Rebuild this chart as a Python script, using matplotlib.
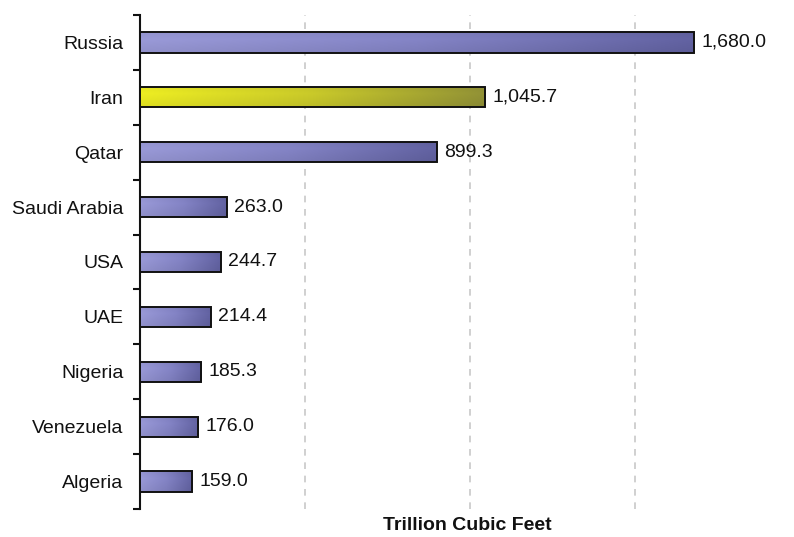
import numpy as np
import matplotlib
matplotlib.use("Agg")
import matplotlib.pyplot as plt
from matplotlib.colors import LinearSegmentedColormap
from matplotlib.transforms import offset_copy

countries = ["Russia", "Iran", "Qatar", "Saudi Arabia", "USA", "UAE", "Nigeria", "Venezuela", "Algeria"]
values = [1680.0, 1045.7, 899.3, 263.0, 244.7, 214.4, 185.3, 176.0, 159.0]
highlight = "Iran"
xlabel = "Trillion Cubic Feet"

plt.rcParams['font.family'] = ['Liberation Sans', 'DejaVu Sans']

fig = plt.figure(figsize=(7.94, 5.37), dpi=100)
ax = fig.add_axes([140/794, 1 - 509/537, 1 - 140/794, (509 - 15)/537])

n = len(countries)
ypos = np.arange(n)
bar_h = 0.37

blue_cmap = LinearSegmentedColormap.from_list("b", ["#9a9ad8", "#8484c6", "#6262a2"])
yel_cmap = LinearSegmentedColormap.from_list("y", ["#eeee22", "#caca2a", "#929236"])

grad = np.linspace(0, 1, 256).reshape(1, -1)
vshade = np.linspace(0, 1, 32).reshape(-1, 1)

bars = ax.barh(ypos, values, height=bar_h, facecolor="none", edgecolor="#111111",
               linewidth=1.4, zorder=4)
for b, c, v in zip(bars, countries, values):
    cmap = yel_cmap if c == highlight else blue_cmap
    y0 = b.get_y()
    img = cmap(grad)[0]
    arr = np.tile(img[None, :, :3], (32, 1, 1))
    shade = 1 - 0.10 * np.abs(vshade - 0.35)
    arr = np.clip(arr * shade[:, :, None], 0, 1)
    im = ax.imshow(arr, extent=[0, v, y0 + bar_h, y0], aspect="auto", zorder=3,
                   interpolation="bilinear")
    rect = plt.Rectangle((0, y0), v, bar_h, transform=ax.transData)
    im.set_clip_path(rect)
    tr = offset_copy(ax.transData, fig=fig, x=5, y=0, units="points")
    ax.text(v, b.get_y() + bar_h / 2, f"{v:,.1f}", va="center", ha="left",
            fontsize=14, color="#111111", zorder=5, transform=tr)

ax.set_xlim(0, 654 / 0.33)
ax.set_ylim(n - 0.5, -0.5)
ax.set_yticks(ypos)
ax.set_yticklabels(countries, fontsize=14, color="#111111")
ax.set_yticks(np.arange(n + 1) - 0.5, minor=True)
ax.tick_params(axis="y", which="major", length=0, pad=12)
ax.tick_params(axis="y", which="minor", length=5, width=1.5, color="#111111")
ax.set_xticks([500, 1000, 1500])
ax.tick_params(axis="x", length=0, labelbottom=False)
ax.grid(axis="x", color="#c8c8c8", linestyle=(0, (4, 4)), linewidth=1.2)
ax.set_axisbelow(True)
for s in ["top", "right", "bottom"]:
    ax.spines[s].set_visible(False)
ax.spines["left"].set_linewidth(1.5)
ax.spines["left"].set_color("#111111")

fig.text((140 + 794) / 2 / 794, 1 - 526 / 537, xlabel, ha="center", va="center",
         fontsize=14, fontweight="bold", color="#111111")

fig.savefig("out.png", dpi=100)
